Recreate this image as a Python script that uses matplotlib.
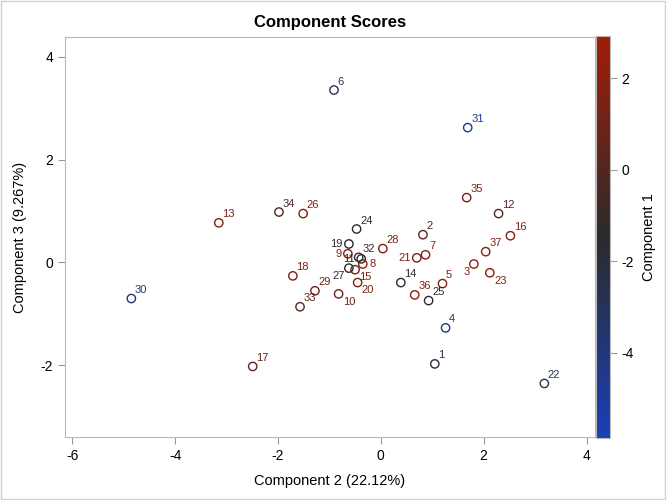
#!/usr/bin/env python3

import numpy as np
import matplotlib
matplotlib.use("Agg")
import matplotlib.pyplot as plt
from matplotlib.colors import LinearSegmentedColormap
from matplotlib.cm import ScalarMappable
from matplotlib.patches import Rectangle

plt.rcParams['font.family'] = ['Liberation Sans', 'DejaVu Sans']
plt.rcParams['axes.unicode_minus'] = False

# observation ids and their scores
ids = [1, 2, 3, 4, 5, 6, 7, 8, 9, 10, 11, 12, 13, 14, 15, 16, 17, 18, 19,
       20, 21, 22, 23, 24, 25, 26, 27, 28, 29, 30, 31, 32, 33, 34, 35, 36, 37]
comp2 = [1.05, 0.82, 1.81, 1.26, 1.20, -0.91, 0.87, -0.35, -0.64, -0.82,
         -0.38, 2.29, -3.15, 0.39, -0.50, 2.52, -2.49, -1.71, -0.62,
         -0.45, 0.70, 3.18, 2.12, -0.47, 0.93, -1.51, -0.62, 0.04, -1.28,
         -4.85, 1.69, -0.43, -1.57, -1.98, 1.67, 0.66, 2.04]
comp3 = [-1.97, 0.54, -0.03, -1.27, -0.41, 3.35, 0.15, -0.03, 0.17, -0.61,
         0.07, 0.95, 0.77, -0.39, -0.14, 0.52, -2.02, -0.26, 0.36,
         -0.39, 0.09, -2.35, -0.20, 0.65, -0.74, 0.95, -0.11, 0.27, -0.55,
         -0.70, 2.62, 0.10, -0.86, 0.98, 1.26, -0.63, 0.21]
comp1 = [-2.0, 0.3, 1.8, -4.2, 1.7, -2.6, 1.8, 2.0, 1.9, 0.8,
         -1.5, 0.3, 1.5, -1.2, 1.5, 1.8, 0.5, 1.3, -1.4,
         1.4, 1.7, -3.0, 2.0, -1.3, -1.5, 1.6, -1.3, 1.4, 1.2,
         -3.8, -4.5, -1.2, 0.2, -0.3, 1.5, 1.8, 1.7]

# label placement: default is upper right
left_labels = {19, 9, 21, 11}
right_labels = {8}
lower_left = {3, 27}
lower_right = {15, 20, 10, 23}

cmap = LinearSegmentedColormap.from_list(
    "ramp", ["#1a3fb8", "#2b2b2b", "#a31c08"])
vmin, vmax = -5.86, 2.92

fig = plt.figure(figsize=(6.66, 5), dpi=100)
ax = fig.add_axes([0.0976, 0.126, 0.7954, 0.800])
cax = fig.add_axes([0.8945, 0.124, 0.021, 0.804])

norm = plt.Normalize(vmin, vmax)
colors = cmap(norm(np.array(comp1)))

ax.scatter(comp2, comp3, s=36, facecolors='none', edgecolors=colors,
           linewidths=1.0, zorder=3)

for i, x, y, c in zip(ids, comp2, comp3, colors):
    if i in left_labels:
        off, ha, va = (-4.5, 0), 'right', 'center'
    elif i in right_labels:
        off, ha, va = (4.5, 0), 'left', 'center'
    elif i in lower_left:
        off, ha, va = (-3, -2), 'right', 'top'
    elif i in lower_right:
        off, ha, va = (3, -2), 'left', 'top'
    else:
        off, ha, va = (2.5, 2.5), 'left', 'bottom'
    ax.annotate(str(i), (x, y), xytext=off, textcoords='offset points',
                ha=ha, va=va, fontsize=8, color=c, zorder=4)

ax.set_xlim(-6.14, 4.16)
ax.set_ylim(-3.39, 4.38)
ax.set_xticks([-6, -4, -2, 0, 2, 4])
ax.set_yticks([-2, 0, 2, 4])
ax.set_xlabel("Component 2 (22.12%)", fontsize=10.5, labelpad=8)
ax.set_ylabel("Component 3 (9.267%)", fontsize=10.5, labelpad=10)
ax.set_title("Component Scores", fontsize=12, fontweight='bold', pad=7)
for sp in ax.spines.values():
    sp.set_color('#b8b8b8')
ax.tick_params(colors='#9a9a9a', labelcolor='black', labelsize=10, length=5)

sm = ScalarMappable(norm=norm, cmap=cmap)
cb = fig.colorbar(sm, cax=cax)
cb.outline.set_edgecolor('#b8b8b8')
cb.set_ticks([2, 0, -2, -4])
cb.ax.tick_params(colors='#9a9a9a', labelcolor='black', labelsize=10, length=5)
cb.set_label("Component 1", fontsize=10.5, labelpad=6)

# light border round the whole graph
fig.patches.append(Rectangle((0.001, 0.002), 0.997, 0.996,
                             transform=fig.transFigure, fill=False,
                             edgecolor='#d0d0d0', linewidth=1))

fig.savefig("out.png", dpi=100)
